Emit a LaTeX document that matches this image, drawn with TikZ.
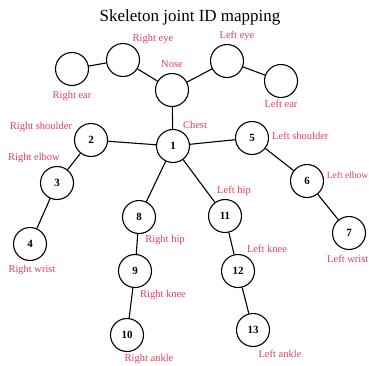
\documentclass[tikz,border=0pt]{standalone}
\usepackage{fontspec}
\setmainfont{Liberation Serif}
\definecolor{lab}{RGB}{228,62,86}
\begin{document}
\begin{tikzpicture}[x=1pt,y=-1pt,
  joint/.style={circle,draw,line width=1.1pt,minimum size=33pt,inner sep=0pt,font=\bfseries\fontsize{11}{13}\selectfont},
  lbl/.style={text=lab,font=\fontsize{10.5}{12}\selectfont,inner sep=0pt},
  bone/.style={line width=1.1pt}]
\useasboundingbox (0,0) rectangle (369,365);
\node[font=\fontsize{17}{20}\selectfont] (title) at (190,17) {Skeleton joint ID mapping};
\node[joint] (rear) at (72,69) {};
\node[joint] (reye) at (123,60) {};
\node[joint] (nose) at (172,90) {};
\node[joint] (leye) at (227,61) {};
\node[joint] (lear) at (281,81) {};
\node[joint] (n1) at (173,146) {1};
\node[joint] (n2) at (91,140) {2};
\node[joint] (n3) at (57,183) {3};
\node[joint] (n4) at (30,244) {4};
\node[joint] (n5) at (252,138) {5};
\node[joint] (n6) at (307,181) {6};
\node[joint] (n7) at (349,233) {7};
\node[joint] (n8) at (139,217) {8};
\node[joint] (n9) at (135,271) {9};
\node[joint] (n10) at (127,335) {10};
\node[joint] (n11) at (225,216) {11};
\node[joint] (n12) at (238,271) {12};
\node[joint] (n13) at (253,330) {13};
\draw[bone] (rear) -- (reye);
\draw[bone] (reye) -- (nose);
\draw[bone] (nose) -- (leye);
\draw[bone] (leye) -- (lear);
\draw[bone] (nose) -- (n1);
\draw[bone] (n1) -- (n2);
\draw[bone] (n2) -- (n3);
\draw[bone] (n3) -- (n4);
\draw[bone] (n1) -- (n5);
\draw[bone] (n5) -- (n6);
\draw[bone] (n6) -- (n7);
\draw[bone] (n1) -- (n8);
\draw[bone] (n8) -- (n9);
\draw[bone] (n9) -- (n10);
\draw[bone] (n1) -- (n11);
\draw[bone] (n11) -- (n12);
\draw[bone] (n12) -- (n13);
\node[lbl] (lreye) at (153,39) {Right eye};
\node[lbl] (lleye) at (237,36) {Left eye};
\node[lbl] (lnose) at (172,64) {Nose};
\node[lbl] (lrear) at (72,96) {Right ear};
\node[lbl] (llear) at (281,104) {Left ear};
\node[lbl] (lchest) at (195,125) {Chest};
\node[lbl] (lrsh) at (41,127) {Right shoulder};
\node[lbl,anchor=west] (llsh) at (272,136) {Left shoulder};
\node[lbl] (lrel) at (34,158) {Right elbow};
\node[lbl,anchor=east,font=\fontsize{9.5}{11}\selectfont] (llel) at (368.5,175) {Left elbow};
\node[lbl] (llhip) at (234,191) {Left hip};
\node[lbl] (lrhip) at (165,240) {Right hip};
\node[lbl,anchor=east] (llwr) at (368.5,259) {Left wrist};
\node[lbl] (lrwr) at (32,270) {Right wrist};
\node[lbl] (llkn) at (267,249) {Left knee};
\node[lbl] (lrkn) at (163,295) {Right knee};
\node[lbl] (llan) at (280,354) {Left ankle};
\node[lbl] (lran) at (149,359) {Right ankle};
\end{tikzpicture}
\end{document}
